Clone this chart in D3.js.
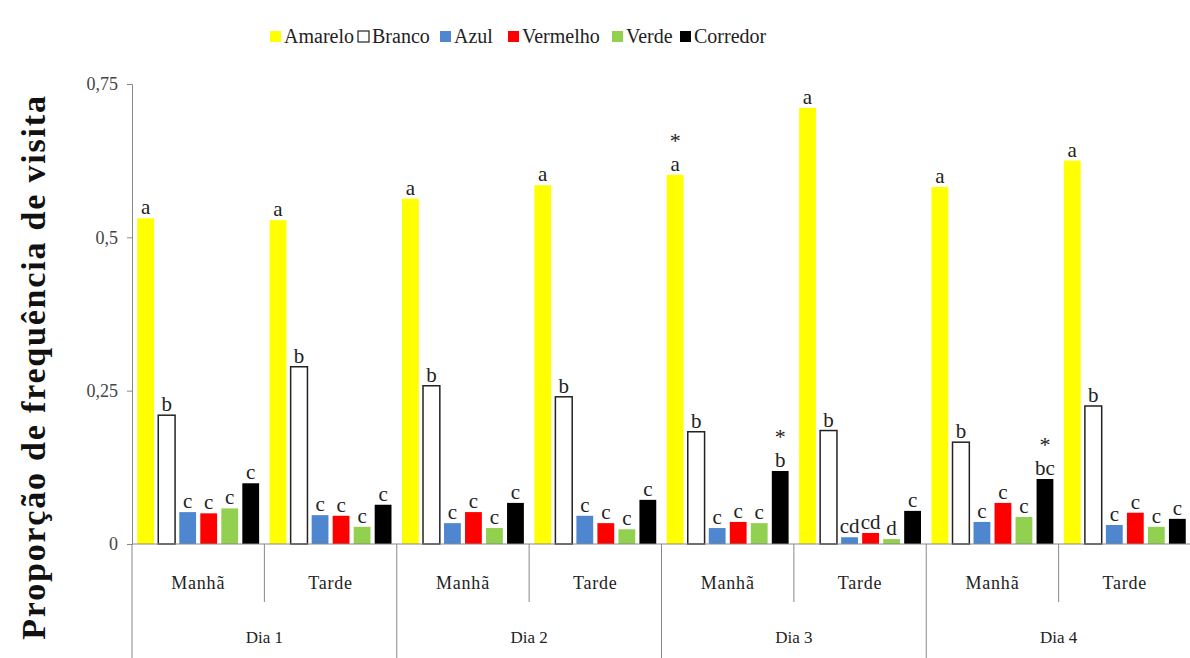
<!DOCTYPE html>
<html><head><meta charset="utf-8">
<script src="https://cdn.jsdelivr.net/npm/d3@7"></script>
<style>body{margin:0;background:#fff}svg{display:block}</style>
</head><body>
<svg id="c" width="1190" height="658"></svg>
<script>
const days = ["Dia 1","Dia 2","Dia 3","Dia 4"];
const periods = ["Manhã","Tarde"];
const series = ["Amarelo","Branco","Azul","Vermelho","Verde","Corredor"];
const colors = ["#ffff00","#ffffff","#4f86d0","#ff0000","#92d050","#000000"];
const yTicks = [0,0.25,0.5,0.75];
const yTickLabels = ["0","0,25","0,5","0,75"];

const amarelo  = [0.531,0.528,0.563,0.585,0.602,0.711,0.582,0.625];
const branco   = [0.210,0.289,0.258,0.240,0.183,0.185,0.166,0.225];
const azul     = [0.052,0.047,0.034,0.046,0.026,0.011,0.036,0.031];
const vermelho = [0.050,0.046,0.052,0.034,0.036,0.018,0.067,0.051];
const verde    = [0.058,0.028,0.026,0.024,0.034,0.008,0.044,0.028];
const corredor = [0.099,0.064,0.067,0.072,0.119,0.054,0.106,0.041];

const lAmarelo  = ["a","a","a","a","a","a","a","a"];
const lBranco   = ["b","b","b","b","b","b","b","b"];
const lAzul     = ["c","c","c","c","c","cd","c","c"];
const lVermelho = ["c","c","c","c","c","cd","c","c"];
const lVerde    = ["c","c","c","c","c","d","c","c"];
const lCorredor = ["c","c","c","c","b","c","bc","c"];
const starAmarelo  = [0,0,0,0,1,0,0,0];
const starCorredor = [0,0,0,0,1,0,1,0];

const values = [amarelo,branco,azul,vermelho,verde,corredor];
const letters = [lAmarelo,lBranco,lAzul,lVermelho,lVerde,lCorredor];
const stars = [starAmarelo,null,null,null,null,starCorredor];

const subgroups = [];
days.forEach(d => periods.forEach(p => subgroups.push(d + "|" + p)));

const svg = d3.select("#c");
const serif = "'Liberation Serif','Times New Roman',serif";
const mLeft = 132, mRight = 1191, mTop = 84, mBottom = 544;

const x0 = d3.scaleBand().domain(subgroups).range([mLeft, mRight]).padding(0);
const x1 = d3.scaleBand().domain(series).range([0, x0.bandwidth()]).paddingInner(0.2).paddingOuter(0.25);
const y = d3.scaleLinear().domain([0, 0.75]).range([mBottom, mTop]);

// y axis
const yAxis = svg.append("g").attr("transform", `translate(${mLeft},0)`)
  .call(d3.axisLeft(y).tickValues(yTicks).tickFormat((d,i)=>yTickLabels[i]).tickSize(5).tickPadding(9));
yAxis.select(".domain").attr("stroke","#888");
yAxis.selectAll(".tick line").attr("stroke","#888");
yAxis.selectAll("text").attr("font-family", serif).attr("font-size", 18).attr("fill","#444");

// bars
const groups = svg.append("g").selectAll("g").data(subgroups).join("g")
  .attr("transform", d => `translate(${x0(d)},0)`);
groups.each(function(sg, gi){
  const g = d3.select(this);
  series.forEach((s, si) => {
    const v = values[si][gi];
    const bx = x1(s), bw = x1.bandwidth();
    g.append("rect").attr("x", bx).attr("y", y(v)).attr("width", bw).attr("height", y(0)-y(v))
      .attr("fill", colors[si])
      .attr("stroke", si===1 ? "#222" : "none").attr("stroke-width", si===1 ? 1.5 : 0);
    g.append("text").attr("x", bx + bw/2).attr("y", y(v) - 4)
      .attr("text-anchor","middle").attr("font-family", serif).attr("font-size", 21).attr("fill","#222")
      .text(letters[si][gi]);
    if (stars[si] && stars[si][gi]) {
      g.append("text").attr("x", bx + bw/2).attr("y", y(v) - 27)
        .attr("text-anchor","middle").attr("font-family", serif).attr("font-size", 22).attr("fill","#222")
        .text("*");
    }
  });
});

// x axis
const ax = svg.append("g").attr("stroke","#888").attr("stroke-width",1);
ax.append("line").attr("x1",mLeft).attr("x2",mRight).attr("y1",mBottom).attr("y2",mBottom);
subgroups.forEach((sg, i) => {
  const xx = x0(sg);
  const isDay = i % 2 === 0;
  ax.append("line").attr("x1",xx).attr("x2",xx).attr("y1",mBottom).attr("y2", isDay ? 658 : 602);
});
ax.append("line").attr("x1",mRight-0.5).attr("x2",mRight-0.5).attr("y1",mBottom).attr("y2",658);

svg.append("g").selectAll("text").data(subgroups).join("text")
  .attr("x", d => x0(d) + x0.bandwidth()/2).attr("y", 589)
  .attr("text-anchor","middle").attr("font-family", serif).attr("font-size", 18).attr("fill","#222")
  .attr("letter-spacing", 0.8)
  .text(d => d.split("|")[1]);

svg.append("g").selectAll("text").data(days).join("text")
  .attr("x", d => x0(d + "|Manhã") + x0.bandwidth()).attr("y", 643)
  .attr("text-anchor","middle").attr("font-family", serif).attr("font-size", 17).attr("fill","#222")
  .text(d => d);

// y title
svg.append("text").attr("transform", "translate(45,367) rotate(-90)")
  .attr("text-anchor","middle").attr("font-family", serif).attr("font-weight","bold")
  .attr("font-size", 34).attr("fill","#111").attr("letter-spacing", 1.8)
  .text("Proporção de frequência de visita");

// legend
const legX = [270, 358, 440, 508, 612, 680];
const leg = svg.append("g");
series.forEach((s, i) => {
  leg.append("rect").attr("x", legX[i]).attr("y", 31).attr("width", 11).attr("height", 11)
    .attr("fill", colors[i]).attr("stroke", i===1 ? "#222" : "none").attr("stroke-width", 1.2);
  leg.append("text").attr("x", legX[i] + 14).attr("y", 43)
    .attr("font-family", serif).attr("font-size", 20).attr("fill","#222").text(s);
});
</script>
</body></html>
